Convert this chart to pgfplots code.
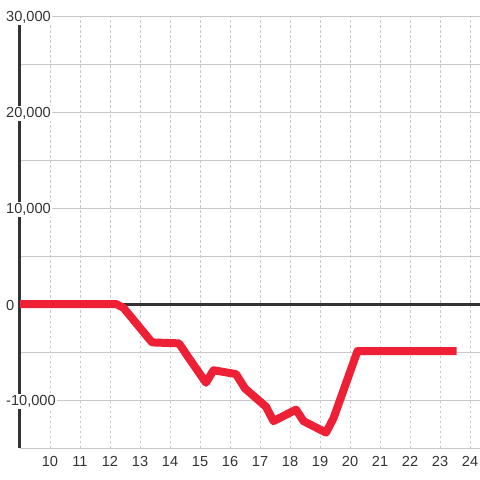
\documentclass[border=0pt]{standalone}
\usepackage{pgfplots}
\pgfplotsset{compat=1.18}
\usepackage{fontspec}
\setmainfont{Liberation Sans}
\definecolor{linered}{RGB}{237,32,54}
\definecolor{axisdark}{RGB}{51,51,51}
\definecolor{gridgray}{RGB}{200,200,200}
\begin{document}
\begin{tikzpicture}
\path[use as bounding box] (-20pt,-32pt) rectangle (460pt,448pt);
\begin{axis}[
  at={(0,0)}, anchor=south west,
  scale only axis, width=460pt, height=432pt,
  xmin=9, xmax=24.333, ymin=-15000, ymax=30000,
  axis x line*=bottom, axis y line*=left,
  x axis line style={draw=none},
  y axis line style={-, line width=3pt, color=axisdark},
  xtick={10,...,24},
  ytick={-10000,0,10000,20000,30000},
  minor ytick={-15000,-5000,5000,15000,25000},
  major tick length=0pt, minor tick length=0pt,
  xmajorgrids, ymajorgrids, yminorgrids,
  x grid style={dash pattern=on 2.5pt off 2.5pt, color=gridgray, line width=0.9pt},
  y grid style={color=gridgray, line width=1pt},
  minor y grid style={color=gridgray, line width=1pt},
  tick label style={font=\fontsize{14.6}{16}\selectfont, text=axisdark},
  /pgf/number format/assume math mode=true,
  /pgf/number format/1000 sep={,},
  scaled y ticks=false,
  yticklabel style={anchor=west, xshift=-15pt, yshift=-1.5pt, fill=white, inner sep=1pt},
  xticklabel style={yshift=-4.5pt},
]
\addplot[line width=3pt, color=axisdark, forget plot] coordinates {(9,0) (24.333,0)};
\addplot[line width=8pt, color=linered, line join=round] coordinates {
(9,0) (12.2,0) (12.45,-400) (13.4,-4000) (14.3,-4100) (14.6,-5500)
(15.2,-8200) (15.45,-6900) (16.2,-7300) (16.5,-8800) (17.2,-10700)
(17.45,-12200) (18.2,-11000) (18.45,-12200) (19.2,-13400) (19.45,-11900)
(20.25,-4900) (23.55,-4900)};
\end{axis}
\end{tikzpicture}
\end{document}
